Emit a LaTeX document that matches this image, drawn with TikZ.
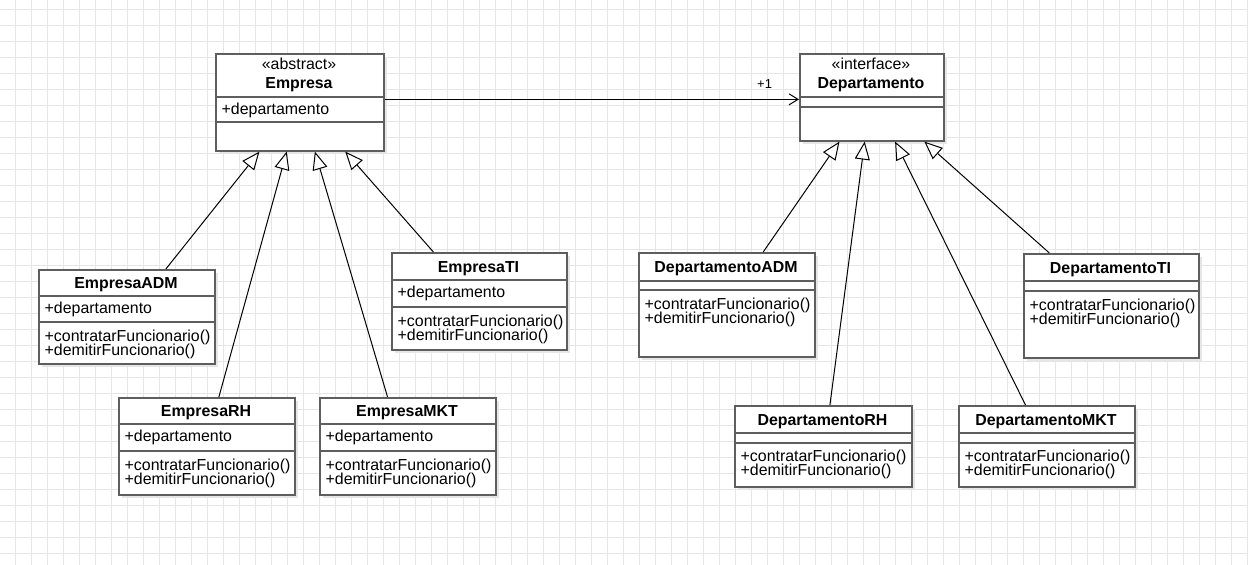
\documentclass[tikz,border=0pt]{standalone}
\usepackage{fontspec}
\setmainfont{Liberation Sans}
\usetikzlibrary{arrows.meta,calc}
\definecolor{gridc}{HTML}{E6E6E6}
\definecolor{boxc}{HTML}{5E5E5E}
\definecolor{shadowc}{HTML}{E6E6E6}
\newcommand\umlclass[7]{%
  \fill[shadowc] (#2+4,#3+4) rectangle (#4+4,#5+4);
  \node[classbox, minimum width={#4-#2}, minimum height={#5-#3}, anchor=north west] (#1) at (#2,#3) {};
  \draw[divider] (#2,#6) -- (#4,#6);
  \draw[divider] (#2,#7) -- (#4,#7);
}
\begin{document}
\begin{tikzpicture}[x=1pt,y=-1pt,
  classbox/.style={draw=boxc, line width=1.6pt, fill=white, inner sep=0pt, rectangle},
  divider/.style={draw=boxc, line width=1.6pt},
  titletext/.style={font=\bfseries\fontsize{15.9}{14}\selectfont, anchor=base, inner sep=0pt},
  stereo/.style={font=\fontsize{15.9}{14}\selectfont, anchor=base, inner sep=0pt},
  member/.style={font=\fontsize{15.9}{14}\selectfont, anchor=base west, inner sep=0pt},
  inherit/.style={draw=black, line width=1pt, -{Triangle[length=18pt,width=15pt,fill=white]}},
  assoc/.style={draw=black, line width=1pt, -{Straight Barb[length=9pt,width=11pt]}},
  mult/.style={font=\fontsize{13}{14}\selectfont, anchor=base west, inner sep=0pt}
]
\useasboundingbox (0,0) rectangle (1248,565);
\fill[white] (0,0) rectangle (1248,565);
\foreach \gx in {15,31,...,1247} \draw[gridc, line width=1pt] (\gx,0) -- (\gx,565);
\foreach \gy in {9,25,...,565} \draw[gridc, line width=1pt] (0,\gy) -- (1248,\gy);

% Empresa
\umlclass{Empresa}{215}{53}{383}{150}{97}{122}
\node[stereo] (empSt) at (299,69) {«abstract»};
\node[titletext] (empT) at (299,88) {Empresa};
\node[member] (empA) at (221.5,114) {+departamento};

% Departamento
\umlclass{Departamento}{799}{53}{943}{140}{97}{107}
\node[stereo] (depSt) at (871,69) {«interface»};
\node[titletext] (depT) at (871,88) {Departamento};

% EmpresaADM
\umlclass{EmpresaADM}{38}{269}{214}{363}{296}{322}
\node[titletext] (eadmT) at (126,288) {EmpresaADM};
\node[member] (eadmA) at (44.5,313) {+departamento};
\node[member] (eadmM1) at (44.5,341) {+contratarFuncionario()};
\node[member] (eadmM2) at (44.5,355) {+demitirFuncionario()};

% EmpresaTI
\umlclass{EmpresaTI}{391}{252}{566}{349}{280}{307}
\node[titletext] (etiT) at (478.5,272) {EmpresaTI};
\node[member] (etiA) at (397.5,297) {+departamento};
\node[member] (etiM1) at (397.5,326) {+contratarFuncionario()};
\node[member] (etiM2) at (397.5,340) {+demitirFuncionario()};

% EmpresaRH
\umlclass{EmpresaRH}{118}{397}{294}{494}{424}{451}
\node[titletext] (erhT) at (206,416) {EmpresaRH};
\node[member] (erhA) at (124.5,441) {+departamento};
\node[member] (erhM1) at (124.5,470) {+contratarFuncionario()};
\node[member] (erhM2) at (124.5,484) {+demitirFuncionario()};

% EmpresaMKT
\umlclass{EmpresaMKT}{319}{397}{495}{494}{424}{451}
\node[titletext] (emktT) at (407,416) {EmpresaMKT};
\node[member] (emktA) at (325.5,441) {+departamento};
\node[member] (emktM1) at (325.5,470) {+contratarFuncionario()};
\node[member] (emktM2) at (325.5,484) {+demitirFuncionario()};

% DepartamentoADM
\umlclass{DepartamentoADM}{638}{252}{814}{356}{281}{290}
\node[titletext] (dadmT) at (726,272) {DepartamentoADM};
\node[member] (dadmM1) at (644.5,309) {+contratarFuncionario()};
\node[member] (dadmM2) at (644.5,323) {+demitirFuncionario()};

% DepartamentoTI
\umlclass{DepartamentoTI}{1023}{253}{1198}{357}{281}{291}
\node[titletext] (dtiT) at (1110.5,273) {DepartamentoTI};
\node[member] (dtiM1) at (1029.5,310) {+contratarFuncionario()};
\node[member] (dtiM2) at (1029.5,324) {+demitirFuncionario()};

% DepartamentoRH
\umlclass{DepartamentoRH}{734}{405}{911}{486}{433}{443}
\node[titletext] (drhT) at (822.5,425) {DepartamentoRH};
\node[member] (drhM1) at (740.5,461) {+contratarFuncionario()};
\node[member] (drhM2) at (740.5,475) {+demitirFuncionario()};

% DepartamentoMKT
\umlclass{DepartamentoMKT}{958}{405}{1134}{486}{433}{443}
\node[titletext] (dmktT) at (1046,425) {DepartamentoMKT};
\node[member] (dmktM1) at (964.5,461) {+contratarFuncionario()};
\node[member] (dmktM2) at (964.5,475) {+demitirFuncionario()};

% association
\coordinate (asA) at ($(Empresa.north east)!0.47!(Empresa.south east)$);
\draw[assoc] (asA) -- (Departamento.west |- asA);
\node[mult] (m1) at (757,88) {+1};

% inheritance Empresa
\draw[inherit] ($(EmpresaADM.north west)!0.72!(EmpresaADM.north east)$) -- ($(Empresa.south west)!0.262!(Empresa.south east)$);
\draw[inherit] ($(EmpresaRH.north west)!0.568!(EmpresaRH.north east)$) -- ($(Empresa.south west)!0.423!(Empresa.south east)$);
\draw[inherit] ($(EmpresaMKT.north west)!0.386!(EmpresaMKT.north east)$) -- ($(Empresa.south west)!0.589!(Empresa.south east)$);
\draw[inherit] ($(EmpresaTI.north west)!0.24!(EmpresaTI.north east)$) -- ($(Empresa.south west)!0.768!(Empresa.south east)$);

% inheritance Departamento
\draw[inherit] ($(DepartamentoADM.north west)!0.705!(DepartamentoADM.north east)$) -- ($(Departamento.south west)!0.278!(Departamento.south east)$);
\draw[inherit] ($(DepartamentoRH.north west)!0.537!(DepartamentoRH.north east)$) -- ($(Departamento.south west)!0.451!(Departamento.south east)$);
\draw[inherit] ($(DepartamentoMKT.north west)!0.38!(DepartamentoMKT.north east)$) -- ($(Departamento.south west)!0.66!(Departamento.south east)$);
\draw[inherit] ($(DepartamentoTI.north west)!0.149!(DepartamentoTI.north east)$) -- ($(Departamento.south west)!0.861!(Departamento.south east)$);
\end{tikzpicture}
\end{document}
